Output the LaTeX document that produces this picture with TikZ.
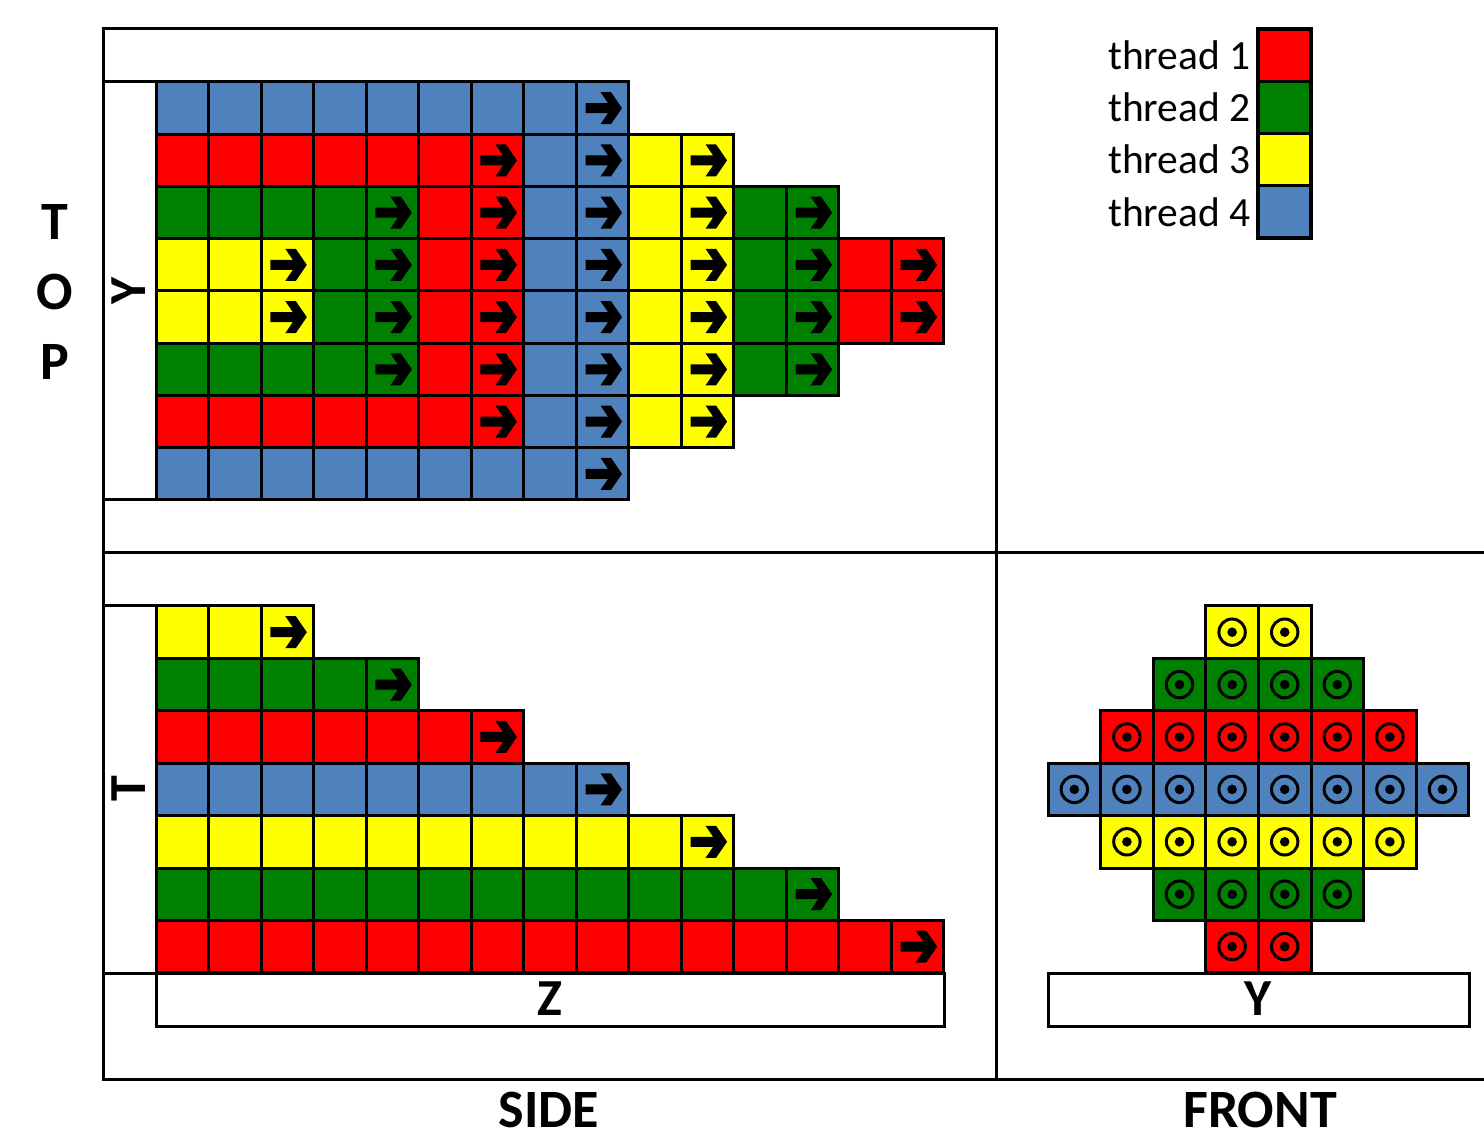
\documentclass[tikz,border=0pt]{standalone}
\usepackage{fontspec}
\setmainfont{Carlito}
\definecolor{tR}{RGB}{255,0,0}
\definecolor{tG}{RGB}{0,128,0}
\definecolor{tY}{RGB}{255,255,0}
\definecolor{tB}{RGB}{79,129,189}
\tikzset{
  cellbox/.style={draw=black, line width=1.5pt},
  frameline/.style={draw=black, line width=1.5pt},
  bigbold/.style={font=\fontsize{27}{27}\selectfont\bfseries, inner sep=0pt},
  axbold/.style={font=\fontsize{26}{26}\selectfont\bfseries, inner sep=0pt},
  legtext/.style={font=\fontsize{20.75}{21}\selectfont, anchor=east, inner sep=0pt},
}
\newcommand\zarrow[2]{\fill[black,shift={(#1,#2)}] (-17,-5) -- (5.5,-5) -- (-2,-16) -- (8.5,-16) -- (19.5,0) -- (8.5,16) -- (-2,16) -- (5.5,5) -- (-17,5) -- cycle;}
\newcommand\zdot[2]{\draw[black,line width=1.5pt] (#1,#2) circle (6.6pt); \fill[black] (#1,#2) circle (2.4pt);}
\begin{document}
\begin{tikzpicture}[x=0.5pt,y=-0.5pt]
\useasboundingbox (0,0) rectangle (1484,1133);
\fill[white] (0,0) rectangle (1484,1133);
% frame
\draw[frameline] (103,29) rectangle (996,553);
\draw[frameline] (996,553) -- (1484,553);
\draw[frameline] (103,553) -- (103,1079) -- (1484,1079);
\draw[frameline] (996,553) -- (996,1079);
% axis boxes
\draw[frameline] (103,82) rectangle (156,500);
\draw[frameline] (103,606) rectangle (156,973);
\draw[frameline] (156,973) rectangle (944,1026);
\draw[frameline] (1048,973) rectangle (1469,1026);
% TOP panel
\foreach \rowlist [count=\rr from 0] in {{tB/0/8},{tR/0/6,tB/7/8,tY/9/10},{tG/0/4,tR/5/6,tB/7/8,tY/9/10,tG/11/12},{tY/0/2,tG/3/4,tR/5/6,tB/7/8,tY/9/10,tG/11/12,tR/13/14},{tY/0/2,tG/3/4,tR/5/6,tB/7/8,tY/9/10,tG/11/12,tR/13/14},{tG/0/4,tR/5/6,tB/7/8,tY/9/10,tG/11/12},{tR/0/6,tB/7/8,tY/9/10},{tB/0/8}}{
  \foreach \cc/\sa/\ea in \rowlist {
    \foreach \kk in {\sa,...,\ea} {
      \filldraw[cellbox, fill=\cc] ({156+\kk*52.53},{82+\rr*52.25}) rectangle ++(52.53,52.25);
    }
    \pgfmathsetmacro\ax{156+(\ea+0.5)*52.53}
    \pgfmathsetmacro\ay{82+(\rr+0.5)*52.25}
    \zarrow{\ax}{\ay}
  }
}
% SIDE panel
\foreach \rowlist [count=\rr from 0] in {{tY/0/2},{tG/0/4},{tR/0/6},{tB/0/8},{tY/0/10},{tG/0/12},{tR/0/14}}{
  \foreach \cc/\sa/\ea in \rowlist {
    \foreach \kk in {\sa,...,\ea} {
      \filldraw[cellbox, fill=\cc] ({156+\kk*52.53},{606+\rr*52.4}) rectangle ++(52.53,52.4);
    }
    \pgfmathsetmacro\ax{156+(\ea+0.5)*52.53}
    \pgfmathsetmacro\ay{606+(\rr+0.5)*52.4}
    \zarrow{\ax}{\ay}
  }
}
% FRONT panel
\foreach \rowlist [count=\rr from 0] in {{tY/3/4},{tG/2/5},{tR/1/6},{tB/0/7},{tY/1/6},{tG/2/5},{tR/3/4}}{
  \foreach \cc/\sa/\ea in \rowlist {
    \foreach \kk in {\sa,...,\ea} {
      \filldraw[cellbox, fill=\cc] ({1048+\kk*52.6},{606+\rr*52.4}) rectangle ++(52.6,52.4);
      \pgfmathsetmacro\ax{1048+(\kk+0.5)*52.6}
      \pgfmathsetmacro\ay{606+(\rr+0.5)*52.4}
      \zdot{\ax}{\ay}
    }
  }
}
% legend
\foreach \cc [count=\kk from 0] in {tR,tG,tY,tB}{
  \filldraw[cellbox, fill=\cc] (1258,{29+\kk*52.25}) rectangle ++(53,52.25);
}
\draw[black,line width=2pt] (1258,29) rectangle (1311,238);
\node[legtext] (l1) at (1251,55) {thread 1};
\node[legtext] (l2) at (1251,107) {thread 2};
\node[legtext] (l3) at (1251,159) {thread 3};
\node[legtext] (l4) at (1251,212) {thread 4};
% labels
\node[bigbold] (lt) at (55,222) {T};
\node[bigbold] (lo) at (55,292) {O};
\node[bigbold] (lp) at (55,362) {P};
\node[bigbold] (side) at (549,1110) {SIDE};
\node[bigbold] (front) at (1260,1110) {FRONT};
\node[axbold, rotate=90] (yax) at (129,291) {Y};
\node[axbold, rotate=90] (tax) at (129,789) {T};
\node[axbold] (zax) at (550,999) {Z};
\node[axbold] (yfr) at (1258,999) {Y};
\end{tikzpicture}
\end{document}
